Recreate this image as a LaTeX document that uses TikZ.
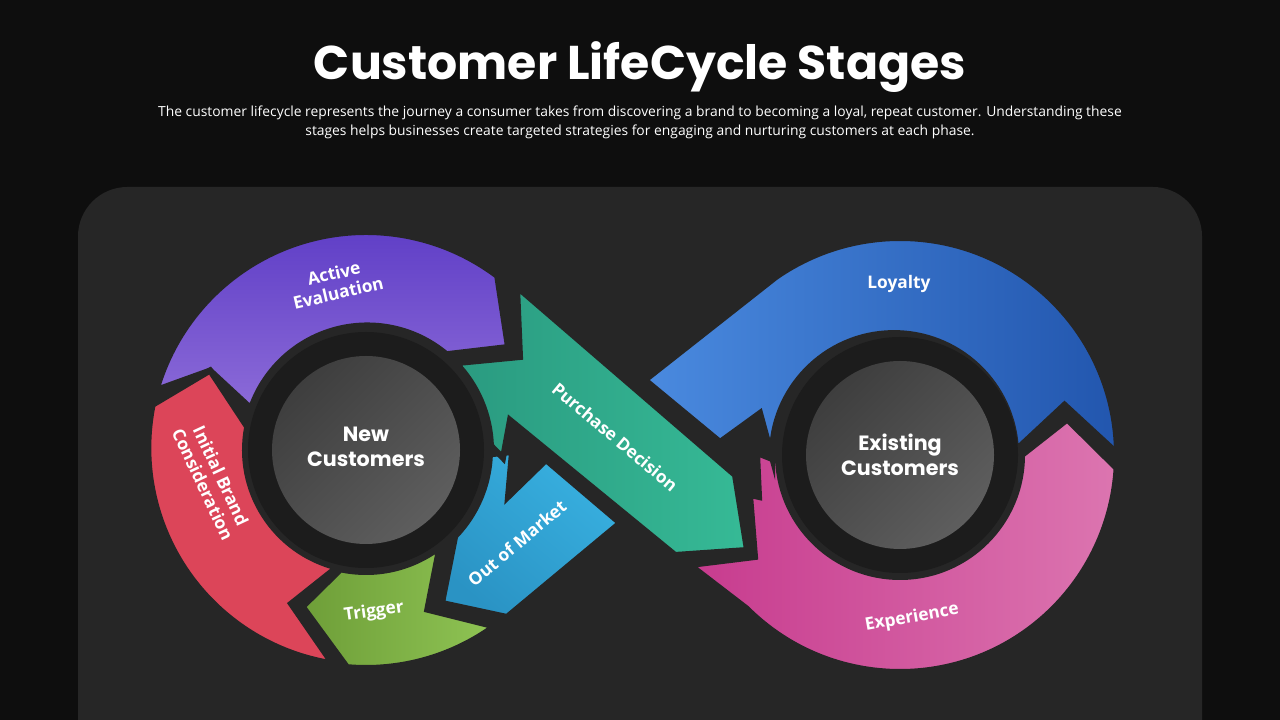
\documentclass[tikz,border=0pt]{standalone}
\usepackage{fontspec}
\setmainfont{Open Sans}
\newfontfamily\titlef{Poppins}
\definecolor{bg}{HTML}{0E0E0E}
\definecolor{panel}{HTML}{262626}
\definecolor{ring}{HTML}{1C1C1C}
\definecolor{pinkA}{HTML}{C73B8E}\definecolor{pinkB}{HTML}{DC75B0}
\definecolor{loyA}{HTML}{4A8ADF}\definecolor{loyB}{HTML}{2256AE}
\definecolor{omA}{HTML}{38B0E0}\definecolor{omB}{HTML}{2A93C4}
\definecolor{tealA}{HTML}{2A9A80}\definecolor{tealB}{HTML}{36BA96}
\definecolor{purA}{HTML}{5E3DC6}\definecolor{purB}{HTML}{8C6BD8}
\definecolor{redA}{HTML}{DC4559}
\definecolor{grA}{HTML}{6E9E38}\definecolor{grB}{HTML}{8FC454}
\definecolor{dkA}{HTML}{3E3E3E}\definecolor{dkB}{HTML}{5E5E5E}
\begin{document}
\begin{tikzpicture}[x=0.75pt,y=0.75pt,
  seg/.style={draw=panel,line width=4.5pt,line join=miter},
  lbl/.style={text=white,font=\bfseries\fontsize{13}{15}\selectfont,align=center},
  clbl/.style={text=white,font=\titlef\bfseries\fontsize{15.5}{18.5}\selectfont,align=center}]
\useasboundingbox (0,0) rectangle (1280,720);
\fill[bg] (0,0) rectangle (1280,720);
\fill[panel,rounded corners=37pt] (78,-60) rectangle (1202,533);
\node[text=white,font=\titlef\bfseries\fontsize{35.5}{40}\selectfont] (title) at (640,653) {Customer LifeCycle Stages};
\node[text=white,font=\fontsize{10.4}{14.4}\selectfont,align=center] (sub) at (640,598) {The customer lifecycle represents the journey a consumer takes from discovering a brand to becoming a loyal, repeat customer. Understanding these\\stages helps businesses create targeted strategies for engaging and nurturing customers at each phase.};
% right ring
\begin{scope}[shift={(900,265)}]
\shade[seg,left color=pinkA,right color=pinkB] (-3.5:217) -- (12:171) -- (0:122) arc[start angle=0,end angle=-177,radius=122] -- (-143,2) -- (-141,-42) -- (-150,-40) -- (-145,-102) -- (-210,-110) -- (225:217) arc[start angle=225,end angle=356.5,radius=217] -- cycle;
\shade[seg,left color=loyA,right color=loyB] (0.5:217) arc[start angle=0.5,end angle=125,radius=217] -- (-255,75) -- (-180,13) -- (-140,42) -- (181:128) arc[start angle=181,end angle=2.4,radius=122] -- (17:172) -- cycle;
\end{scope}
% left ring
\begin{scope}[shift={(366,270)}]
\shade[seg,left color=omA,right color=omB,shading angle=-40] (76,-153) -- (141,-167) -- (254,-73) -- (180,-10) -- (142,-47) -- (146,-2) -- (-2:124) arc[start angle=-2,end angle=-44,radius=124] -- cycle;
\shade[seg,left color=tealA,right color=tealB] (151,163) -- (369,-25) -- (381,-100) -- (309,-105) -- (144,30) -- (137,-8) -- (2:125) arc[start angle=2,end angle=44,radius=125] -- (154,93) -- cycle;
\shade[seg,top color=purA,bottom color=purB] (164:218) arc[start angle=164,end angle=53,radius=218] -- (142,103) -- (50:125) arc[start angle=50,end angle=161,radius=123] -- (153:175) -- cycle;
\fill[seg,fill=redA] (168:218) -- (153:175) -- (169:121) arc[start angle=169,end angle=256,radius=121] -- (244:171) -- (261:216) arc[start angle=261,end angle=168,radius=218] -- cycle;
\shade[seg,left color=grA,right color=grB] (248:169) -- (258:122) arc[start angle=258,end angle=307,radius=122] -- (291:171) -- (306:218) arc[start angle=306,end angle=265,radius=218] -- cycle;
\end{scope}
\foreach \c in {{(366,270)},{(900,265)}}{
  \fill[ring] \c circle[radius=118];
  \shade[left color=dkA,right color=dkB,shading angle=45] \c circle[radius=94];
}
\node[clbl] (nc) at (366,273) {New\\Customers};
\node[clbl] (ec) at (900,265) {Existing\\Customers};
\node[lbl,rotate=13] (ae) at (336,437) {Active\\Evaluation};
\node[lbl,rotate=-65] (ibc) at (212,240) {Initial Brand\\Consideration};
\node[lbl,rotate=8] (tr) at (374,108) {Trigger};
\node[lbl,rotate=40] (om) at (517,177) {Out of Market};
\node[lbl,rotate=-40] (pd) at (615,283) {Purchase Decision};
\node[lbl] (lo) at (899,436) {Loyalty};
\node[lbl,rotate=10] (ex) at (912,102) {Experience};
\end{tikzpicture}
\end{document}
